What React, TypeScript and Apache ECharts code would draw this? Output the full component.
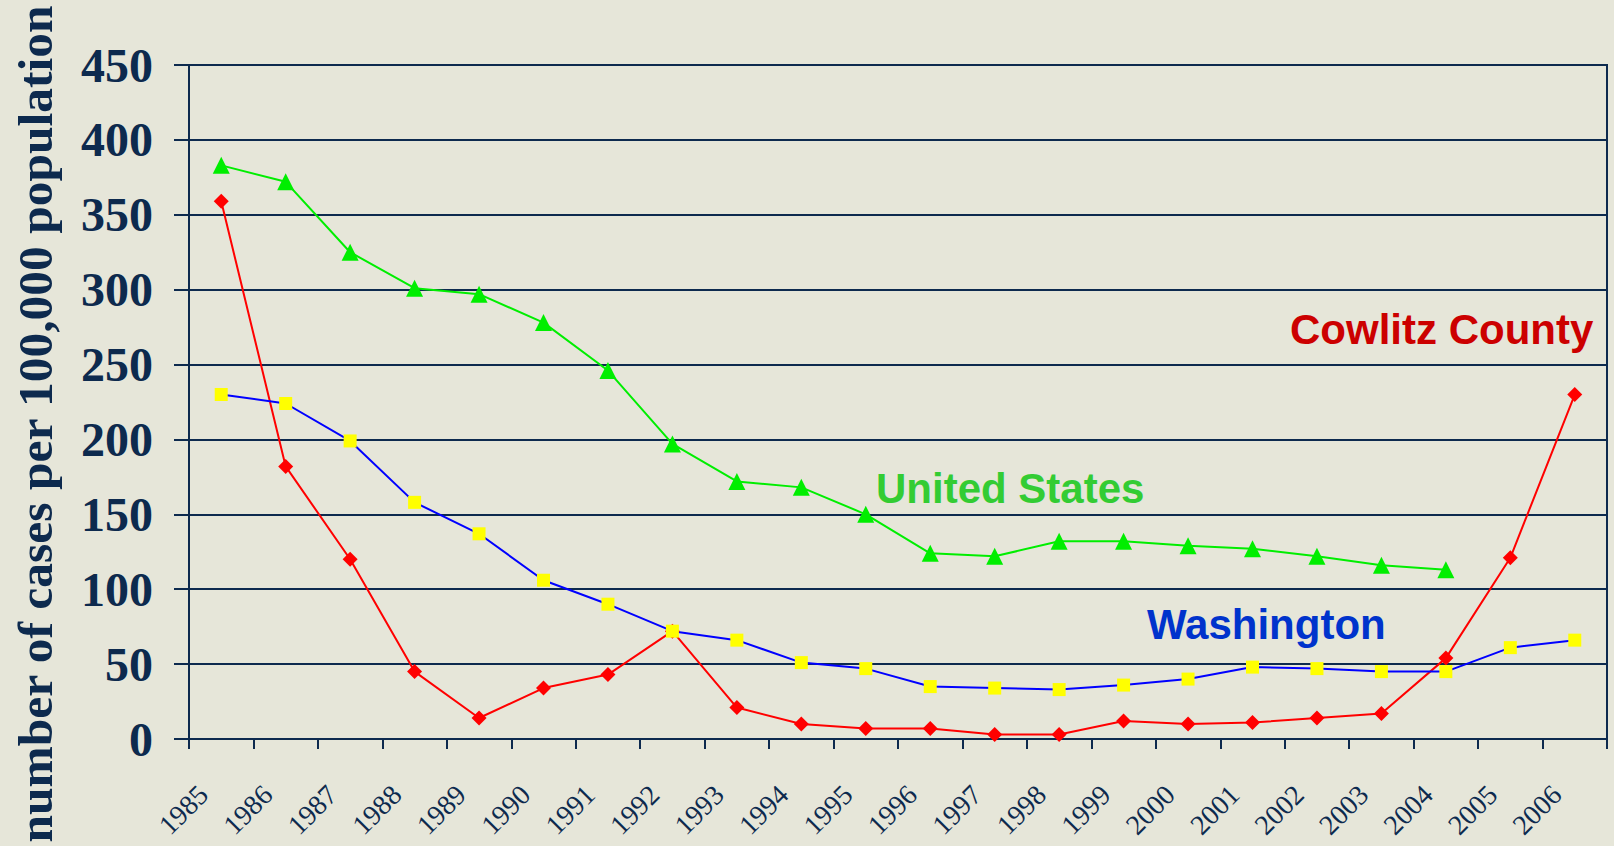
import React, { useEffect, useRef } from "react";
import * as echarts from "echarts";

const years = ["1985","1986","1987","1988","1989","1990","1991","1992","1993","1994","1995","1996","1997","1998","1999","2000","2001","2002","2003","2004","2005","2006"];
const unitedStates = [383,372,325,301,297,278,246,197,172,168,150,124,122,132,132,129,127,122,116,113,null,null];
const washington = [230,224,199,158,137,106,90,72,66,51,47,35,34,33,36,40,48,47,45,45,61,66];
const cowlitz = [359,182,120,45,14,34,43,72,21,10,7,7,3,3,12,10,11,14,17,54,121,230];
const yTicks = { min: 0, max: 450, interval: 50 };

const NAVY = "#0d2a4e";

export default function App() {
  const ref = useRef<HTMLDivElement>(null);
  useEffect(() => {
    if (!ref.current) return;
    const chart = echarts.init(ref.current, null, { renderer: "svg" });
    chart.setOption({
      animation: false,
      backgroundColor: "#e6e6d9",
      grid: {
        left: 189, top: 65, right: 7, bottom: 107,
        containLabel: false, outerBoundsMode: "none",
        show: true, borderColor: NAVY, borderWidth: 2, backgroundColor: "transparent",
      },
      xAxis: {
        type: "category",
        data: years,
        axisLine: { lineStyle: { color: NAVY, width: 2 } },
        axisTick: { show: true, length: 10, lineStyle: { color: NAVY, width: 2 } },
        axisLabel: { show: false },
      },
      yAxis: {
        type: "value",
        min: yTicks.min, max: yTicks.max, interval: yTicks.interval,
        axisLine: { show: true, lineStyle: { color: NAVY, width: 2 } },
        axisTick: { show: true, length: 15, lineStyle: { color: NAVY, width: 2 } },
        axisLabel: {
          margin: 36, color: NAVY, fontFamily: "Liberation Serif", fontWeight: "bold", fontSize: 48,
        },
        splitLine: { show: true, lineStyle: { color: NAVY, width: 2 } },
      },
      series: [
        {
          name: "Cowlitz County", type: "line", data: cowlitz,
          symbol: "diamond", symbolSize: 15,
          lineStyle: { color: "#ff0000", width: 2 },
          itemStyle: { color: "#ff0000" },
        },
        {
          name: "Washington", type: "line", data: washington,
          symbol: "rect", symbolSize: 13,
          lineStyle: { color: "#0000ff", width: 2 },
          itemStyle: { color: "#ffff00" },
        },
        {
          name: "United States", type: "line", data: unitedStates,
          symbol: "triangle", symbolSize: 17,
          lineStyle: { color: "#00ee00", width: 2 },
          itemStyle: { color: "#00ee00" },
        },
      ],
    });

    const y0 = chart.convertToPixel({ yAxisIndex: 0 }, 0) as number;
    const yearLabels = years.map((yr) => {
      const px = chart.convertToPixel({ xAxisIndex: 0 }, yr) as number;
      return {
        type: "text", x: px - 18, y: y0 + 51, rotation: Math.PI / 4,
        style: {
          text: yr, fill: NAVY, fontFamily: "Liberation Serif", fontSize: 28,
          textAlign: "right", textVerticalAlign: "middle",
        },
      };
    });
    const annot = (text: string, x: number, y: number, fill: string) => ({
      type: "text", x, y,
      style: {
        text, fill, fontFamily: "Liberation Sans", fontWeight: "bold", fontSize: 42,
        textAlign: "left", textVerticalAlign: "middle",
      },
    });
    chart.setOption({
      graphic: [
        {
          type: "text", x: 35, y: 424, rotation: Math.PI / 2,
          style: {
            text: "number of cases per 100,000 population",
            fill: NAVY, fontFamily: "Liberation Serif", fontWeight: "bold", fontSize: 49.5,
            textAlign: "center", textVerticalAlign: "middle",
          },
        },
        annot("Cowlitz County", 1290, 329, "#cc0000"),
        annot("United States", 876, 488, "#33cc33"),
        annot("Washington", 1147, 624, "#0033cc"),
        ...yearLabels,
      ],
    });
    return () => chart.dispose();
  }, []);
  return <div ref={ref} style={{ position: "fixed", left: 0, top: 0, width: 1614, height: 846 }} />;
}
